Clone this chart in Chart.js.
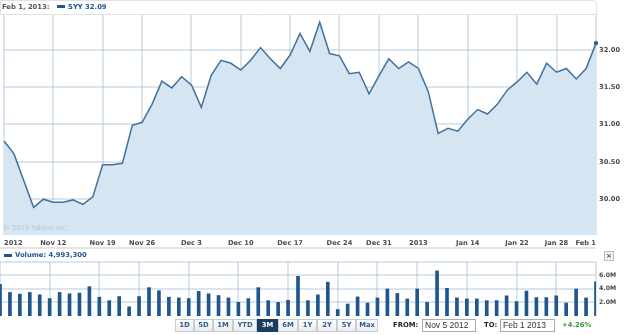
<!DOCTYPE html>
<html>
<head>
<meta charset="utf-8">
<script src="https://cdn.jsdelivr.net/npm/chart.js@4.4.1/dist/chart.umd.min.js"></script>
<style>
  html, body { margin: 0; padding: 0; background: #fff; }
  #wrap { position: relative; width: 625px; height: 335px; overflow: hidden; font-family: "DejaVu Sans", Verdana, sans-serif; }
  #wrap canvas { position: absolute; left: 0; top: 0; }
  .t { position: absolute; white-space: nowrap; font-weight: bold; font-size: 6.8px; line-height: 14px; }
  .hdr { position: absolute; left: 0; top: 0; width: 595px; height: 13px; border: 1px solid #dde3e9; border-radius: 0 4px 0 0; }
  .ico { position: absolute; width: 8px; height: 3px; background: #1f568b; }
  .sep { position: absolute; left: 0; top: 247px; width: 596px; height: 2px; background: #e2e4e6; }
  .close { position: absolute; left: 604px; top: 251px; width: 8px; height: 8px; border: 1px solid #b9bcc0; background: #f2f3f4; color: #555; font-size: 7px; line-height: 8px; text-align: center; font-weight: bold; }
  .wm { position: absolute; left: 3px; top: 224px; font-size: 6.8px; color: #b7c5d2; white-space: nowrap; }
  .btn { position: absolute; top: 319px; height: 11px; border: 1px solid #c9cdd2; background: linear-gradient(#ffffff, #e9ecef); color: #2c5d8f; font-weight: bold; font-size: 6.8px; line-height: 11px; text-align: center; }
  .btn.on { background: #1c3d63; border-color: #1c3d63; color: #fff; }
  .inp { position: absolute; top: 319px; height: 11px; border: 1px solid #a5acb2; font-family: "Liberation Sans", Arial, sans-serif; font-size: 8.5px; line-height: 11px; color: #333; padding-left: 2px; }
</style>
</head>
<body>
<div id="wrap">
  <canvas id="priceChart" width="625" height="335"></canvas>
  <canvas id="volChart" width="625" height="335"></canvas>

  <div class="hdr"></div>
  <div class="t" style="left:2px;top:0;color:#555;">Feb 1, 2013:</div>
  <div class="ico" style="left:57px;top:5px;"></div>
  <div class="t" style="left:68px;top:0;color:#1f568b;">SYY 32.09</div>

  <div class="wm">© 2013 Yahoo! Inc.</div>

  <div class="sep"></div>
  <div class="ico" style="left:4px;top:254px;"></div>
  <div class="t" style="left:15px;top:248px;color:#1f568b;">Volume: 4,993,300</div>
  <div class="close">×</div>

  <div id="btns"></div>
  <div class="t" style="left:393px;top:318px;color:#222;">FROM:</div>
  <div class="inp" style="left:422px;width:50px;">Nov 5 2012</div>
  <div class="t" style="left:484px;top:318px;color:#222;">TO:</div>
  <div class="inp" style="left:500px;width:51px;">Feb 1 2013</div>
  <div class="t" style="left:562px;top:318px;color:#3a9a3a;">+4.26%</div>
</div>

<script>
// SYY daily closes, Nov 5 2012 .. Feb 1 2013 (61 sessions)
const sessions = [
  'Nov 5','Nov 6','Nov 7','Nov 8','Nov 9','Nov 12','Nov 13','Nov 14','Nov 15','Nov 16',
  'Nov 19','Nov 20','Nov 21','Nov 23','Nov 26','Nov 27','Nov 28','Nov 29','Nov 30','Dec 3',
  'Dec 4','Dec 5','Dec 6','Dec 7','Dec 10','Dec 11','Dec 12','Dec 13','Dec 14','Dec 17',
  'Dec 18','Dec 19','Dec 20','Dec 21','Dec 24','Dec 26','Dec 27','Dec 28','Dec 31','Jan 2',
  'Jan 3','Jan 4','Jan 7','Jan 8','Jan 9','Jan 10','Jan 11','Jan 14','Jan 15','Jan 16',
  'Jan 17','Jan 18','Jan 22','Jan 23','Jan 24','Jan 25','Jan 28','Jan 29','Jan 30','Jan 31','Feb 1'
];

const closes = [
  30.78, 30.61, 30.25, 29.89, 30.00, 29.96, 29.96, 29.99, 29.93, 30.03,
  30.46, 30.46, 30.48, 30.99, 31.03, 31.27, 31.58, 31.49, 31.64, 31.53,
  31.23, 31.66, 31.86, 31.82, 31.73, 31.86, 32.03, 31.88, 31.75, 31.93,
  32.22, 31.98, 32.37, 31.95, 31.92, 31.68, 31.70, 31.41, 31.65, 31.88,
  31.75, 31.84, 31.75, 31.44, 30.88, 30.95, 30.91, 31.07, 31.20, 31.14,
  31.27, 31.46, 31.57, 31.70, 31.54, 31.82, 31.70, 31.75, 31.61, 31.75, 32.09
];

// volume in millions of shares
const volumes = [
  4.65, 3.45, 3.20, 3.45, 3.10, 2.55, 3.45, 3.25, 3.35, 4.30,
  2.75, 2.25, 2.85, 1.35, 2.85, 4.15, 3.70, 2.75, 2.65, 2.55,
  3.60, 3.25, 3.00, 2.65, 2.00, 2.55, 4.15, 2.25, 2.00, 2.30,
  5.80, 2.25, 3.10, 4.95, 0.95, 1.75, 2.80, 1.90, 2.65, 3.95,
  3.30, 2.50, 3.95, 2.00, 6.60, 4.05, 2.65, 2.50, 2.50, 2.25,
  2.25, 2.95, 2.10, 3.65, 2.70, 2.70, 2.95, 1.90, 3.95, 2.65, 4.99
];

const tickDays = [0, 5, 10, 14, 19, 24, 29, 34, 38, 42, 47, 52, 56, 60];
const tickLabels = ['2012', 'Nov 12', 'Nov 19', 'Nov 26', 'Dec 3', 'Dec 10', 'Dec 17',
                    'Dec 24', 'Dec 31', '2013', 'Jan 14', 'Jan 22', 'Jan 28', 'Feb 1'];
const priceTicks = [30.0, 30.5, 31.0, 31.5, 32.0];
const volTicks = [2, 4, 6];

const ranges = ['1D', '5D', '1M', 'YTD', '3M', '6M', '1Y', '2Y', '5Y', 'Max'];

const font = { family: '"DejaVu Sans", Verdana, sans-serif', size: 6.7, weight: 'bold' };
const gridColor = 'rgba(140,170,200,0.3)';
const last = closes.length - 1;

new Chart(document.getElementById('priceChart'), {
  type: 'line',
  data: {
    datasets: [{
      data: closes.map((c, i) => ({ x: i, y: c })),
      borderColor: '#41719f',
      borderWidth: 1.5,
      backgroundColor: '#d5e5f1',
      fill: 'start',
      tension: 0,
      clip: 3,
      pointRadius: closes.map((c, i) => i === last ? 2.2 : 0),
      pointBackgroundColor: '#2c5f8e',
      pointBorderWidth: 0
    }]
  },
  options: {
    responsive: false,
    animation: false,
    layout: { padding: { top: 14, bottom: 86, left: 0, right: 0 } },
    plugins: { legend: { display: false }, tooltip: { enabled: false } },
    scales: {
      x: {
        type: 'linear', min: 0, max: 60, z: 1,
        afterBuildTicks: s => { s.ticks = tickDays.map(v => ({ value: v })); },
        afterFit: s => { s.height = 14; },
        grid: { color: gridColor, lineWidth: 2, drawTicks: true, tickLength: 4, tickColor: 'transparent' },
        border: { display: false },
        ticks: {
          align: 'inner', padding: 0, maxRotation: 0, autoSkip: false,
          color: '#4a4a4a', font: font,
          callback: v => tickLabels[tickDays.indexOf(v)]
        }
      },
      y: {
        position: 'right', min: 29.52, max: 32.48, z: 1,
        afterBuildTicks: s => { s.ticks = priceTicks.map(v => ({ value: v })); },
        afterFit: s => { s.width = 29; },
        grid: { color: gridColor, lineWidth: 2, drawTicks: false },
        border: { display: false },
        ticks: { padding: 3, color: '#4a4a4a', font: font, callback: v => v.toFixed(2) }
      }
    }
  }
});

const volMax = 7.9;
new Chart(document.getElementById('volChart'), {
  type: 'bar',
  data: {
    datasets: [{
      data: volumes.map((v, i) => ({ x: i, y: v })),
      backgroundColor: '#1f568b',
      barThickness: 3
    }]
  },
  options: {
    responsive: false,
    animation: false,
    layout: { padding: { top: 262, bottom: 19, left: 0, right: 0 } },
    plugins: { legend: { display: false }, tooltip: { enabled: false } },
    scales: {
      x: {
        type: 'linear', min: 0, max: 60, offset: false,
        afterBuildTicks: s => { s.ticks = tickDays.map(v => ({ value: v })); },
        afterFit: s => { s.height = 0; },
        grid: { color: gridColor, lineWidth: 2, drawTicks: false, offset: false },
        border: { display: false },
        ticks: { display: false }
      },
      y: {
        position: 'right', min: 0, max: volMax,
        afterBuildTicks: s => { s.ticks = volTicks.concat([volMax]).map(v => ({ value: v })); },
        afterFit: s => { s.width = 29; },
        grid: { color: gridColor, lineWidth: 2, drawTicks: false },
        border: { display: false },
        ticks: { padding: 3, color: '#4a4a4a', font: { family: font.family, size: 6.2, weight: 'bold' },
                 callback: v => v === volMax ? '' : v.toFixed(1) + 'M' }
      }
    }
  }
});

// range buttons
const btnLeft = [175, 194, 213, 233, 257, 278, 298, 317, 337, 356];
const btnWidth = [17, 17, 18, 22, 19, 18, 17, 18, 17, 20];
const btns = document.getElementById('btns');
ranges.forEach((r, i) => {
  const b = document.createElement('div');
  b.className = 'btn' + (r === '3M' ? ' on' : '');
  b.style.left = btnLeft[i] + 'px';
  b.style.width = btnWidth[i] + 'px';
  b.textContent = r;
  btns.appendChild(b);
});
</script>
</body>
</html>
